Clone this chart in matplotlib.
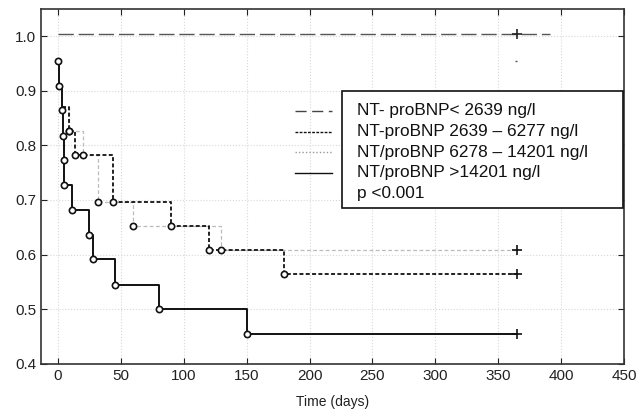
import numpy as np
import matplotlib.pyplot as plt
from matplotlib.patches import Rectangle

plt.rcParams['font.family'] = ['Liberation Sans', 'DejaVu Sans']

# Kaplan-Meier steps (time in days, survival)
t_low = [0, 391]
s_low = [1.004, 1.004]

t_mid = [3, 8.5, 13.5, 44, 90, 120, 180]
s_mid = [0.870, 0.826, 0.783, 0.696, 0.652, 0.609, 0.565]

t_high = [3, 8.5, 19.5, 32, 60, 130]
s_high = [0.870, 0.826, 0.783, 0.696, 0.652, 0.609]

t_top = [0, 1, 3, 4, 4.5, 5, 11.5, 25, 28, 45, 80, 150]
s_top = [0.955, 0.909, 0.864, 0.818, 0.773, 0.727, 0.682, 0.636, 0.591, 0.545, 0.500, 0.455]

t_end = 365  # censoring at end of follow-up
stray_pt = (364, 0.954)

labels = ['NT- proBNP< 2639 ng/l', 'NT-proBNP 2639 \u2013 6277 ng/l',
          'NT/proBNP 6278 \u2013 14201 ng/l', 'NT/proBNP >14201 ng/l', 'p <0.001']

fig = plt.figure(figsize=(6.43, 4.12), dpi=100)
ax = fig.add_axes([41/643, 48.3/412, 583/643, 354.7/412])

ax.set_xlim(-13.5, 450)
ax.set_ylim(0.4, 1.05)
ax.set_xticks(np.arange(0, 451, 50))
ax.set_yticks(np.arange(0.4, 1.01, 0.1))
ax.set_yticklabels(['%.1f' % v for v in np.arange(0.4, 1.01, 0.1)])
ax.grid(True, color='#d8d8d8', ls=':', lw=0.8)
ax.tick_params(direction='in', top=True, right=True, length=4, labelsize=11, colors='#222222')
for sp in ax.spines.values():
    sp.set_color('#333333')
    sp.set_linewidth(1.2)

def km(t, s, **kw):
    x = np.r_[t, t_end]
    y = np.r_[s, s[-1]]
    ax.step(x, y, where='post', **kw)

# group 1: no events
ax.plot(t_low, s_low, color='#555555', lw=1.0, dashes=(11, 3.5))
ax.plot([t_end], [s_low[0]], marker='+', color='#222222', ms=7, mew=1.2)
ax.plot([stray_pt[0]], [stray_pt[1]], marker='_', color='#555555', ms=2, mew=1)

km(t_high, s_high, color='#bbbbbb', lw=0.9, dashes=(3, 2))
km(t_mid, s_mid, color='#111111', lw=1.3, dashes=(2.2, 1.3))
km(t_top, s_top, color='#111111', lw=1.4)

circ = dict(ls='none', marker='o', ms=4.5, mfc='white', mec='#111111', mew=1.2)
ax.plot(t_high[1:], s_high[1:], **circ)
ax.plot(t_mid[1:], s_mid[1:], **circ)
ax.plot(t_top, s_top, **circ)
for s in (s_high, s_mid, s_top):
    ax.plot([t_end], [s[-1]], marker='+', color='#111111', ms=7, mew=1.2)

ax.set_xlabel('Time (days)', fontsize=10, color='#222222', labelpad=9)

# legend box drawn by hand, samples sit outside the frame
ax.add_patch(Rectangle((0.516, 0.439), 0.482, 0.330, transform=ax.transAxes,
                       fill=True, fc='white', ec='#111111', lw=1.2, zorder=5))
ys = [0.713, 0.654, 0.596, 0.538, 0.480]
for y, lab in zip(ys, labels):
    ax.text(0.542, y, lab, transform=ax.transAxes, fontsize=12.4, va='center',
            color='#111111', zorder=6)
samp = [dict(color='#444444', lw=1.0, dashes=(8, 4)),
        dict(color='#111111', lw=1.0, dashes=(2, 1)),
        dict(color='#999999', lw=1.0, dashes=(1, 1.5)),
        dict(color='#111111', lw=1.0)]
for y, st in zip(ys[:4], samp):
    ax.plot([0.436, 0.499], [y, y], transform=ax.transAxes, clip_on=False, **st)

fig.savefig('out.png', dpi=100)
